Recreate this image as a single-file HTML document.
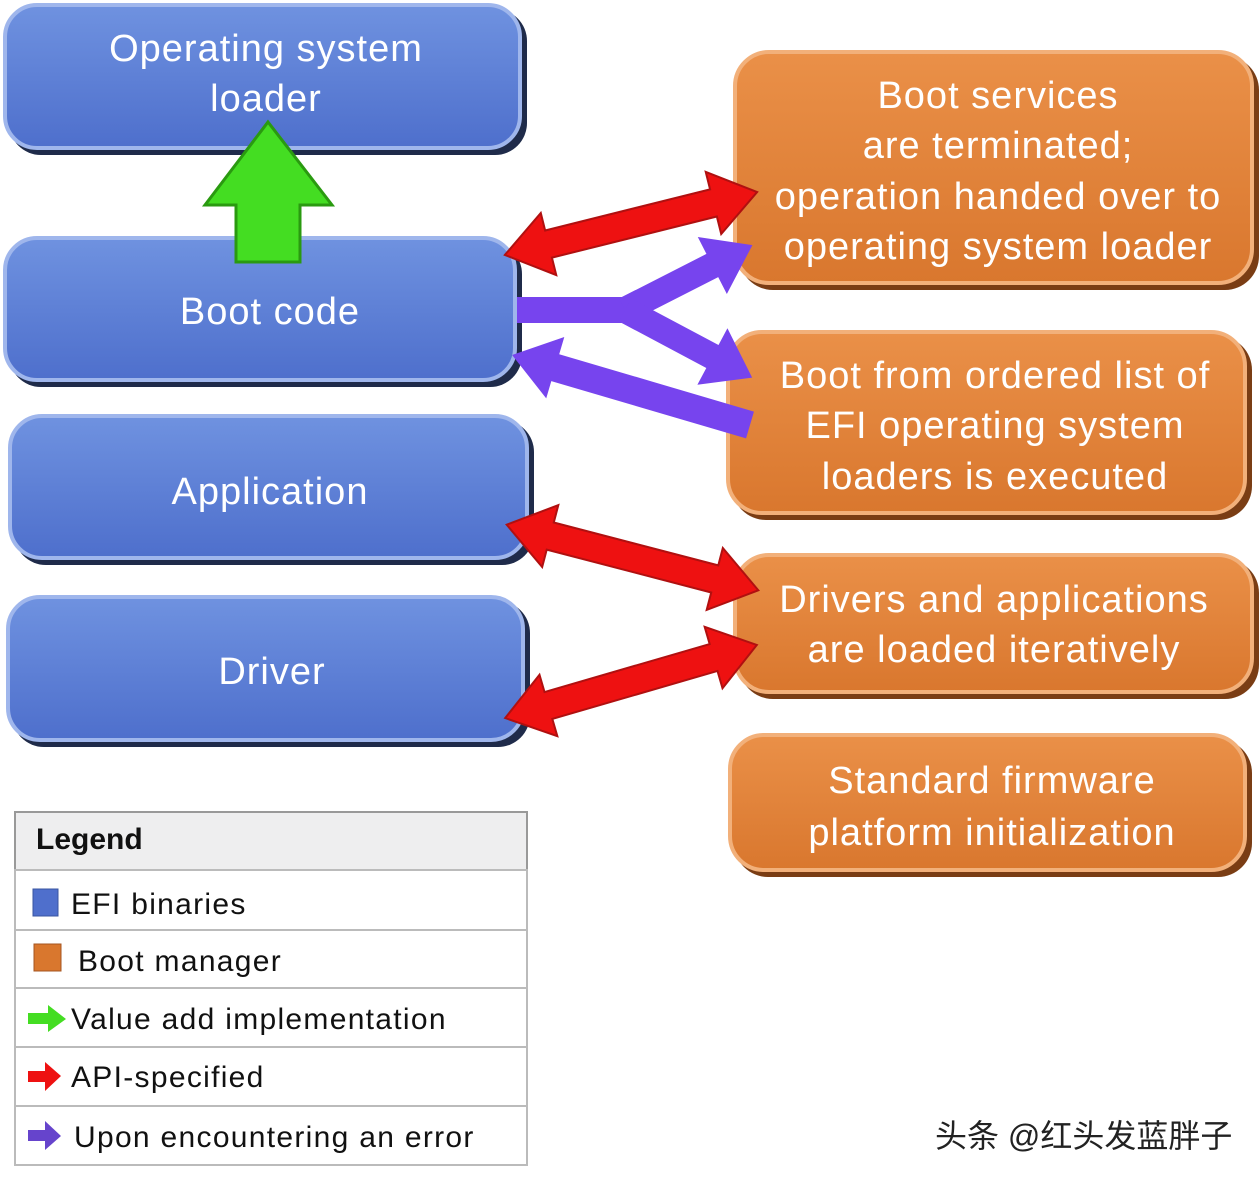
<!DOCTYPE html>
<html><head><meta charset="utf-8"><style>
html,body{margin:0;padding:0;background:#fff;}
svg{display:block;}
text{font-family:"Liberation Sans","Noto Sans CJK SC",sans-serif;}
</style></head><body>
<svg width="1260" height="1180" viewBox="0 0 1260 1180" xmlns="http://www.w3.org/2000/svg">
<defs>
<linearGradient id="bl" x1="0" y1="0" x2="0" y2="1"><stop offset="0" stop-color="#6f92e0"/><stop offset="1" stop-color="#4e6fcc"/></linearGradient>
<linearGradient id="or" x1="0" y1="0" x2="0" y2="1"><stop offset="0" stop-color="#ea9048"/><stop offset="1" stop-color="#d9772e"/></linearGradient>
</defs>
<g>
<rect x="9" y="9" width="518" height="146" rx="32" fill="#1f2b4a"/>
<rect x="5" y="5" width="515" height="143" rx="32" fill="url(#bl)" stroke="#9fb6ec" stroke-width="4"/>
<rect x="9" y="242" width="513" height="145" rx="32" fill="#1f2b4a"/>
<rect x="5" y="238" width="510" height="142" rx="32" fill="url(#bl)" stroke="#9fb6ec" stroke-width="4"/>
<rect x="14" y="420" width="520" height="145" rx="32" fill="#1f2b4a"/>
<rect x="10" y="416" width="517" height="142" rx="32" fill="url(#bl)" stroke="#9fb6ec" stroke-width="4"/>
<rect x="12" y="601" width="518" height="146" rx="32" fill="#1f2b4a"/>
<rect x="8" y="597" width="515" height="143" rx="32" fill="url(#bl)" stroke="#9fb6ec" stroke-width="4"/>
</g>
<g fill="#fff" font-size="38" letter-spacing="1" text-anchor="middle">
<text x="266" y="61">Operating system</text>
<text x="266" y="111">loader</text>
<text x="270" y="324">Boot code</text>
<text x="270" y="504">Application</text>
<text x="272" y="684">Driver</text>
</g>
<g>
<rect x="739" y="56" width="520" height="234" rx="34" fill="#7a3d14"/>
<rect x="735" y="52" width="517" height="231" rx="34" fill="url(#or)" stroke="#f2b07a" stroke-width="4"/>
<rect x="732" y="336" width="520" height="184" rx="34" fill="#7a3d14"/>
<rect x="728" y="332" width="517" height="181" rx="34" fill="url(#or)" stroke="#f2b07a" stroke-width="4"/>
<rect x="739" y="559" width="520" height="140" rx="34" fill="#7a3d14"/>
<rect x="735" y="555" width="517" height="137" rx="34" fill="url(#or)" stroke="#f2b07a" stroke-width="4"/>
<rect x="734" y="739" width="518" height="138" rx="34" fill="#7a3d14"/>
<rect x="730" y="735" width="515" height="135" rx="34" fill="url(#or)" stroke="#f2b07a" stroke-width="4"/>
</g>
<g fill="#fff" font-size="38" letter-spacing="1" text-anchor="middle">
<text x="998" y="108">Boot services</text>
<text x="998" y="158">are terminated;</text>
<text x="998" y="209">operation handed over to</text>
<text x="998" y="259">operating system loader</text>
<text x="995" y="388">Boot from ordered list of</text>
<text x="995" y="438">EFI operating system</text>
<text x="995" y="489">loaders is executed</text>
<text x="994" y="612">Drivers and applications</text>
<text x="994" y="662">are loaded iteratively</text>
<text x="992" y="793">Standard firmware</text>
<text x="992" y="845">platform initialization</text>
</g>
<polygon points="268,122 332,205 300,205 300,262 236,262 236,205 205,205" fill="#44dd22" stroke="#2a9a10" stroke-width="3"/>
<g fill="#ee1111" stroke="#b01010" stroke-width="2">
<polygon transform="translate(631,223.5) rotate(-14)" points="-130,0 -85,-32 -85,-14 85,-14 85,-32 130,0 85,32 85,14 -85,14 -85,32"/>
<polygon transform="translate(632.5,557.5) rotate(14.6)" points="-130,0 -85,-32 -85,-14 85,-14 85,-32 130,0 85,32 85,14 -85,14 -85,32"/>
<polygon transform="translate(631,681.5) rotate(-16.2)" points="-131,0 -86,-32 -86,-14 86,-14 86,-32 131,0 86,32 86,14 -86,14 -86,32"/>
</g>
<g fill="#7744ee">
<rect x="517" y="297" width="118" height="26"/>
<polygon transform="translate(625,310) rotate(-27)" points="0,-13 98,-13 98,-32 143,0 98,32 98,13 0,13"/>
<polygon transform="translate(625,310) rotate(28)" points="0,-13 99,-13 99,-32 144,0 99,32 99,13 0,13"/>
<polygon transform="translate(750,425) rotate(196.4)" points="0,-14 203,-14 203,-32 248,0 203,32 203,14 0,14"/>
</g>
<g>
<rect x="15" y="812" width="512" height="58" fill="#eeeeef" stroke="#999" stroke-width="2"/>
<rect x="15" y="870" width="512" height="295" fill="#fff" stroke="#bbb" stroke-width="2"/>
<g stroke="#bbb" stroke-width="2">
<line x1="15" y1="930" x2="527" y2="930"/>
<line x1="15" y1="988" x2="527" y2="988"/>
<line x1="15" y1="1047" x2="527" y2="1047"/>
<line x1="15" y1="1106" x2="527" y2="1106"/>
</g>
<text x="36" y="849" font-size="30" font-weight="bold" fill="#111">Legend</text>
<rect x="33" y="889" width="25" height="27" fill="#4f6fcc" stroke="#3a55a0"/>
<rect x="34" y="944" width="27" height="27" fill="#d9772e" stroke="#a55520"/>
<polygon points="28,1013 48,1013 48,1005 66,1019 48,1032 48,1024 28,1024" fill="#44dd22"/>
<polygon points="28,1071 45,1071 45,1062 61,1076 45,1091 45,1082 28,1082" fill="#ee1111"/>
<polygon points="28,1130 45,1130 45,1121 61,1136 45,1150 45,1141 28,1141" fill="#6644cc"/>
<g font-size="30" fill="#111" letter-spacing="1.3">
<text x="71" y="914">EFI binaries</text>
<text x="78" y="971">Boot manager</text>
<text x="71" y="1029">Value add implementation</text>
<text x="71" y="1087">API-specified</text>
<text x="74" y="1147">Upon encountering an error</text>
</g>
</g>
<text x="935" y="1147" font-size="32" fill="#222">头条 @红头发蓝胖子</text>
</svg>
</body></html>
